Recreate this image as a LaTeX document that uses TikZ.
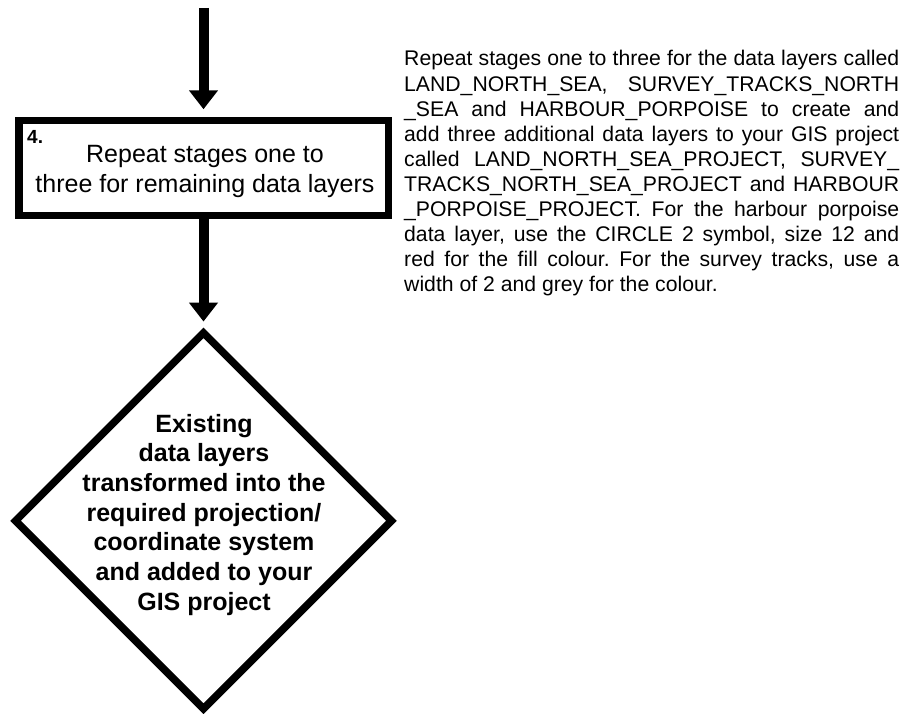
\documentclass[tikz,border=0pt]{standalone}
\usepackage{fontspec}
\setmainfont{Liberation Sans}
\usetikzlibrary{arrows.meta,shapes.geometric}
\frenchspacing

\begin{document}
\begin{tikzpicture}[x=1pt,y=-1pt,
  flowline/.style={line width=10pt,-{Triangle[length=19pt,width=28pt]}},
  stagebox/.style={draw,line width=7.5pt,rectangle,inner sep=0pt,
    minimum width=369.5pt,minimum height=94.75pt},
  outcome/.style={draw,line width=7.5pt,diamond,inner sep=0pt,
    minimum width=379pt,minimum height=379pt},
  plain/.style={inner sep=0pt}]

\useasboundingbox[fill=white] (0,0) rectangle (907,714);

% stage 4 box and its caption
\node[stagebox] (stage4) at (203.5,167.9) {};
\node[plain,anchor=base west,font=\bfseries\fontsize{19}{22}\selectfont] (num) at (27,144) {4.};
\node[plain,anchor=base] (stagetext) at (205,163)
  {\parbox[t]{370pt}{\centering\fontsize{25}{30}\selectfont
   Repeat stages one to\\three for remaining data layers}};

% outcome diamond
\node[outcome] (result) at (203.5,520.8) {};
\node[plain,anchor=base] (resulttext) at (204,432)
  {\parbox[t]{300pt}{\centering\bfseries\fontsize{25}{29.7}\selectfont
   Existing\\data layers\\transformed into the\\required projection/\\coordinate system\\and added to your\\GIS project}};

% connectors
\coordinate (start) at (203.5,8);
\draw[flowline,shorten >=7.5pt] (start) -- (stage4.north);
\draw[flowline,shorten >=6pt] (stage4.south) -- (result.north);

% explanatory note, each line justified to the full measure
\node[plain,anchor=base west] (note) at (404,66)
  {\parbox[t]{495pt}{\fontsize{21.2}{25.1}\selectfont
   \makebox[\linewidth][s]{Repeat stages one to three for the data layers called}\\
   \makebox[\linewidth][s]{LAND\_NORTH\_SEA,\ \ SURVEY\_TRACKS\_NORTH}\\
   \makebox[\linewidth][s]{\_SEA and HARBOUR\_PORPOISE to create and}\\
   \makebox[\linewidth][s]{add three additional data layers to your GIS project}\\
   \makebox[\linewidth][s]{called LAND\_NORTH\_SEA\_PROJECT, SURVEY\_}\\
   \makebox[\linewidth][s]{TRACKS\_NORTH\_SEA\_PROJECT and HARBOUR}\\
   \makebox[\linewidth][s]{\_PORPOISE\_PROJECT. For the harbour porpoise}\\
   \makebox[\linewidth][s]{data layer, use the CIRCLE 2 symbol, size 12 and}\\
   \makebox[\linewidth][s]{red for the fill colour. For the survey tracks, use a}\\
   width of 2 and grey for the colour.}};
\end{tikzpicture}
\end{document}
